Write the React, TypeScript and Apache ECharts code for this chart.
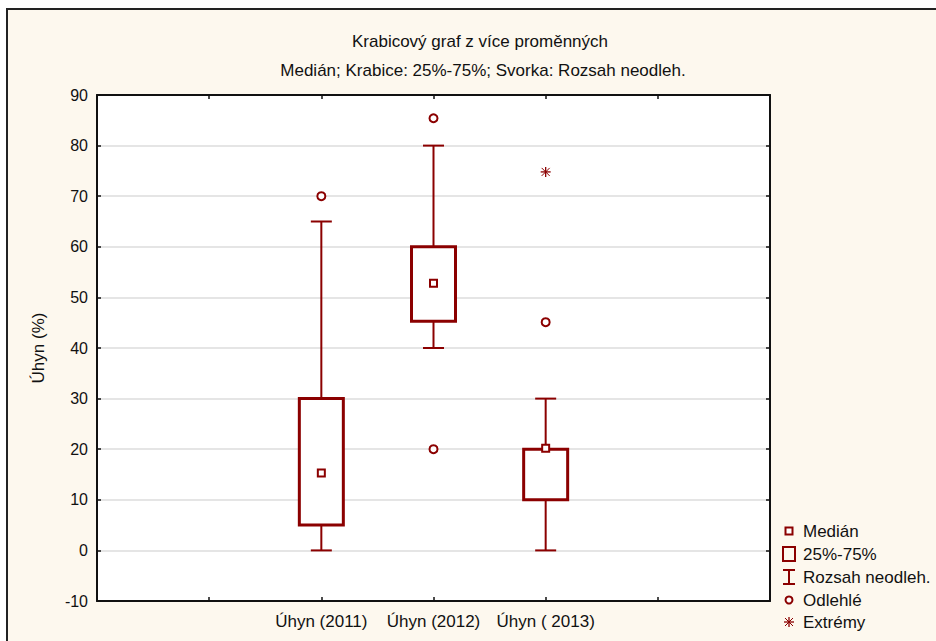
import React, { useEffect, useRef } from "react";
import * as echarts from "echarts";

const categories = ["", " ", "Úhyn (2011)", "Úhyn (2012)", "Úhyn ( 2013)", "  ", "   "];
const boxIndex = [2, 3, 4];
const whiskerLow = [0, 40, 0];
const whiskerHigh = [65, 80, 30];
const q1 = [5, 45.3, 10];
const q3 = [30, 60, 20];
const medians = [15.3, 52.8, 20.2];
const outlierIdx = [2, 3, 3, 4];
const outlierVal = [70, 85.4, 20, 45.1];
const extremeIdx = [4];
const extremeVal = [74.8];
const yTicks = { min: -10, max: 90, interval: 10 };

const DARK = "#8b0000";
const CREAM = "#fdf8ee";
const FONT = "'Liberation Sans', Arial, sans-serif";

export default function App() {
  const ref = useRef<HTMLDivElement>(null);
  useEffect(() => {
    if (!ref.current) return;
    const chart = echarts.init(ref.current, null, { renderer: "svg" });

    const boxData = boxIndex.map((x, i) => [x, q1[i], q3[i]]);
    const whiskerData = boxIndex.map((x, i) => [x, whiskerLow[i], whiskerHigh[i]]);
    const medianData = boxIndex.map((x, i) => [x, medians[i]]);
    const outlierData = outlierIdx.map((x, i) => [x, outlierVal[i]]);
    const extremeData = extremeIdx.map((x, i) => [x, extremeVal[i]]);

    const legendX = 789;
    const legendTextX = 803;
    const ly = [531, 554, 577, 600, 622];
    const legendText = ["Medián", "25%-75%", "Rozsah neodleh.", "Odlehlé", "Extrémy"];

    const graphics: any[] = [
      {
        type: "rect",
        z: -10,
        silent: true,
        shape: { x: 7, y: 9, width: 1000, height: 1000 },
        style: { fill: CREAM, stroke: "#222", lineWidth: 2 },
      },
      {
        type: "text",
        x: 480,
        y: 41,
        style: {
          text: "Krabicový graf z více proměnných",
          fill: "#111",
          font: `17px ${FONT}`,
          textAlign: "center",
          textVerticalAlign: "middle",
        },
      },
      {
        type: "text",
        x: 483,
        y: 70,
        style: {
          text: "Medián; Krabice: 25%-75%; Svorka: Rozsah neodleh.",
          fill: "#111",
          font: `17px ${FONT}`,
          textAlign: "center",
          textVerticalAlign: "middle",
        },
      },
      // legend icons
      { type: "rect", shape: { x: legendX - 3.5, y: ly[0] - 3.5, width: 7, height: 7 }, style: { fill: "#fff", stroke: DARK, lineWidth: 2 } },
      { type: "rect", shape: { x: legendX - 6, y: ly[1] - 7, width: 12, height: 14 }, style: { fill: "none", stroke: DARK, lineWidth: 2 } },
      { type: "line", shape: { x1: legendX, y1: ly[2] - 7, x2: legendX, y2: ly[2] + 7 }, style: { stroke: DARK, lineWidth: 2 } },
      { type: "line", shape: { x1: legendX - 6, y1: ly[2] - 7, x2: legendX + 6, y2: ly[2] - 7 }, style: { stroke: DARK, lineWidth: 2 } },
      { type: "line", shape: { x1: legendX - 6, y1: ly[2] + 7, x2: legendX + 6, y2: ly[2] + 7 }, style: { stroke: DARK, lineWidth: 2 } },
      { type: "circle", shape: { cx: legendX, cy: ly[3], r: 3.5 }, style: { fill: "#fff", stroke: DARK, lineWidth: 2 } },
      { type: "line", shape: { x1: legendX - 5, y1: ly[4], x2: legendX + 5, y2: ly[4] }, style: { stroke: DARK, lineWidth: 1.3 } },
      { type: "line", shape: { x1: legendX, y1: ly[4] - 5, x2: legendX, y2: ly[4] + 5 }, style: { stroke: DARK, lineWidth: 1.3 } },
      { type: "line", shape: { x1: legendX - 4, y1: ly[4] - 4, x2: legendX + 4, y2: ly[4] + 4 }, style: { stroke: DARK, lineWidth: 1 } },
      { type: "line", shape: { x1: legendX + 4, y1: ly[4] - 4, x2: legendX - 4, y2: ly[4] + 4 }, style: { stroke: DARK, lineWidth: 1 } },
      ...legendText.map((t, i) => ({
        type: "text",
        x: legendTextX,
        y: ly[i],
        style: { text: t, fill: "#111", font: `17px ${FONT}`, textAlign: "left", textVerticalAlign: "middle" },
      })),
    ];

    const axisLine = { show: true, onZero: false, lineStyle: { color: "#111", width: 2 } };

    const option: any = {
      animation: false,
      backgroundColor: "#ffffff",
      graphic: graphics,
      grid: { left: 97, right: 166, top: 95, bottom: 40, show: true, backgroundColor: "#ffffff", borderWidth: 0 },
      xAxis: [
        {
          type: "category",
          data: categories,
          boundaryGap: false,
          position: "bottom",
          axisLine,
          axisTick: { show: true, inside: true, length: 4, lineStyle: { color: "#111", width: 1.5 } },
          axisLabel: { show: true, color: "#111", fontSize: 17, fontFamily: FONT, margin: 12, interval: 0 },
          splitLine: { show: false },
        },
        {
          type: "category",
          data: categories,
          boundaryGap: false,
          position: "top",
          axisLine,
          axisTick: { show: true, inside: true, length: 4, lineStyle: { color: "#111", width: 1.5 } },
          axisLabel: { show: false },
          splitLine: { show: false },
        },
      ],
      yAxis: [
        {
          type: "value",
          min: yTicks.min,
          max: yTicks.max,
          interval: yTicks.interval,
          position: "left",
          name: "Úhyn (%)",
          nameLocation: "middle",
          nameRotate: 90,
          nameGap: 50,
          nameTextStyle: { color: "#111", fontSize: 17, fontFamily: FONT },
          axisLine,
          axisTick: { show: true, inside: true, length: 4, lineStyle: { color: "#111", width: 1.5 } },
          axisLabel: { color: "#111", fontSize: 16, fontFamily: FONT, margin: 9 },
          splitLine: { show: true, lineStyle: { color: "#dcdcdc", width: 1.5 } },
        },
        {
          type: "value",
          min: yTicks.min,
          max: yTicks.max,
          interval: yTicks.interval,
          position: "right",
          axisLine,
          axisTick: { show: true, inside: true, length: 4, lineStyle: { color: "#111", width: 1.5 } },
          axisLabel: { show: false },
          splitLine: { show: false },
        },
      ],
      series: [
        {
          type: "custom",
          name: "Rozsah neodleh.",
          xAxisIndex: 0,
          yAxisIndex: 0,
          z: 2,
          data: whiskerData,
          renderItem: (params: any, api: any) => {
            const x = api.value(0);
            const lo = api.coord([x, api.value(1)]);
            const hi = api.coord([x, api.value(2)]);
            const hw = 10.5;
            const st = { stroke: DARK, lineWidth: 2 };
            return {
              type: "group",
              children: [
                { type: "line", shape: { x1: lo[0], y1: lo[1], x2: hi[0], y2: hi[1] }, style: st },
                { type: "line", shape: { x1: lo[0] - hw, y1: lo[1], x2: lo[0] + hw, y2: lo[1] }, style: st },
                { type: "line", shape: { x1: hi[0] - hw, y1: hi[1], x2: hi[0] + hw, y2: hi[1] }, style: st },
              ],
            };
          },
        },
        {
          type: "custom",
          name: "25%-75%",
          xAxisIndex: 0,
          yAxisIndex: 0,
          z: 3,
          data: boxData,
          renderItem: (params: any, api: any) => {
            const x = api.value(0);
            const lo = api.coord([x, api.value(1)]);
            const hi = api.coord([x, api.value(2)]);
            const hw = 22;
            return {
              type: "rect",
              shape: { x: lo[0] - hw, y: hi[1], width: hw * 2, height: lo[1] - hi[1] },
              style: { fill: "#ffffff", stroke: DARK, lineWidth: 3 },
            };
          },
        },
        {
          type: "scatter",
          name: "Medián",
          z: 4,
          symbol: "rect",
          symbolSize: 7,
          itemStyle: { color: "#ffffff", borderColor: DARK, borderWidth: 2, opacity: 1 },
          data: medianData,
        },
        {
          type: "scatter",
          name: "Odlehlé",
          z: 4,
          symbol: "circle",
          symbolSize: 8,
          itemStyle: { color: "#ffffff", borderColor: DARK, borderWidth: 2, opacity: 1 },
          data: outlierData,
        },
        {
          type: "custom",
          name: "Extrémy",
          z: 4,
          data: extremeData,
          renderItem: (params: any, api: any) => {
            const p = api.coord([api.value(0), api.value(1)]);
            const r = 5;
            const d = 4;
            return {
              type: "group",
              children: [
                { type: "line", shape: { x1: p[0] - r, y1: p[1], x2: p[0] + r, y2: p[1] }, style: { stroke: DARK, lineWidth: 1.3 } },
                { type: "line", shape: { x1: p[0], y1: p[1] - r, x2: p[0], y2: p[1] + r }, style: { stroke: DARK, lineWidth: 1.3 } },
                { type: "line", shape: { x1: p[0] - d, y1: p[1] - d, x2: p[0] + d, y2: p[1] + d }, style: { stroke: DARK, lineWidth: 1 } },
                { type: "line", shape: { x1: p[0] + d, y1: p[1] - d, x2: p[0] - d, y2: p[1] + d }, style: { stroke: DARK, lineWidth: 1 } },
              ],
            };
          },
        },
      ],
    };
    chart.setOption(option);
    return () => chart.dispose();
  }, []);

  return (
    <div
      ref={ref}
      style={{ position: "fixed", left: 0, top: 0, width: 936, height: 641 }}
    />
  );
}
